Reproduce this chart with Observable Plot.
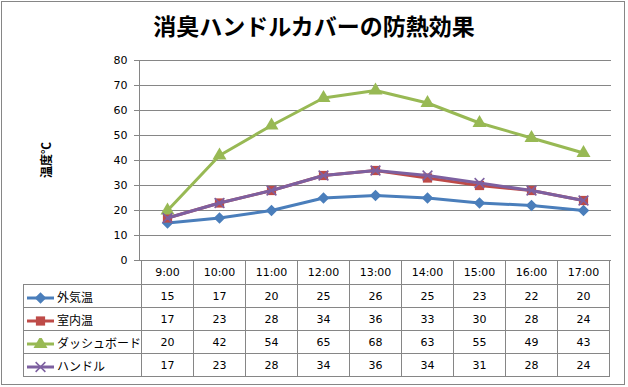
<!DOCTYPE html>
<html><head><meta charset="utf-8">
<script src="https://cdn.jsdelivr.net/npm/d3@7"></script>
<script src="https://cdn.jsdelivr.net/npm/@observablehq/plot@0.6"></script>
<style>
html,body{margin:0;padding:0;background:#fff;}
#wrap{position:relative;width:628px;height:387px;overflow:hidden;background:#fff;}
#border{position:absolute;left:1px;top:1px;width:622px;height:382px;border:1px solid #868686;}
#title{position:absolute;left:0;width:628px;top:8px;text-align:center;font-family:"Noto Sans CJK JP";font-weight:bold;font-size:23px;line-height:34px;color:#000;}
#ylabel{position:absolute;left:45px;top:160px;transform:translate(-50%,-50%) rotate(-90deg);font-family:"Noto Sans CJK JP";font-weight:bold;font-size:12px;white-space:nowrap;color:#000;}
#chart{position:absolute;left:0;top:0;}
#tbl{position:absolute;left:23px;top:260px;border-collapse:collapse;table-layout:fixed;font-family:"DejaVu Sans";font-size:11px;color:#000;}
#tbl td{border:1px solid #868686;text-align:center;padding:0;height:22px;white-space:nowrap;overflow:hidden;}
#tbl tr.hd td{height:24px;border-top:none;}
#tbl tr.hd td.blank{border-left:none;}
#tbl td.name{text-align:left;font-family:"Noto Sans CJK JP";font-size:12px;}
#tbl td.name svg{vertical-align:middle;margin:0 3px 0 3px;}
</style></head>
<body><div id="wrap"><div id="border"></div><div id="title"></div><div id="ylabel"></div><div id="chart"></div></div>
<script>
const title = "消臭ハンドルカバーの防熱効果";
const yLabel = "温度℃";
const times = ["9:00","10:00","11:00","12:00","13:00","14:00","15:00","16:00","17:00"];
const seriesNames = ["外気温","室内温","ダッシュボード","ハンドル"];
const outside = [15,17,20,25,26,25,23,22,20];
const room = [17,23,28,34,36,33,30,28,24];
const dashboard = [20,42,54,65,68,63,55,49,43];
const handle = [17,23,28,34,36,34,31,28,24];
const yTicks = [0,10,20,30,40,50,60,70,80];
const colors = ["#4A7EBB","#BE4B48","#98B954","#7D60A0"];
const symbols = ["diamond2","square","triangle","times"];

const seriesValues = [outside, room, dashboard, handle];
const data = seriesValues.flatMap((vals, s) => vals.map((v, i) => ({time: times[i], value: v, series: seriesNames[s]})));

document.getElementById("title").textContent = title;
document.getElementById("ylabel").textContent = yLabel;

const marks = [
  Plot.gridY(yTicks, {stroke: "#868686", strokeOpacity: 1}),
  Plot.axisY(yTicks, {tickSize: 5, tickPadding: 7, stroke: "#868686", fontSize: 11, fontFamily: "DejaVu Sans", fill: "#000", label: null}),
  Plot.frame({anchor: "left", stroke: "#868686"}),
  Plot.ruleY([0], {stroke: "#868686"})
];
seriesNames.forEach((name, s) => {
  const rows = data.filter(d => d.series === name);
  marks.push(Plot.line(rows, {x: "time", y: "value", stroke: colors[s], strokeWidth: 3}));
  const isStroke = symbols[s] === "times";
  marks.push(Plot.dot(rows, {x: "time", y: "value", symbol: symbols[s], r: isStroke ? 4.5 : 5.2,
    fill: isStroke ? "none" : colors[s], stroke: colors[s], strokeWidth: isStroke ? 1.5 : 0}));
});

const chart = Plot.plot({
  width: 628, height: 387,
  marginLeft: 139, marginRight: 17, marginTop: 60, marginBottom: 127,
  x: {type: "band", domain: times, padding: 0, axis: null},
  y: {domain: [0, 80], axis: null},
  marks
});
document.getElementById("chart").appendChild(chart);

// data table under the chart, columns taken from the x band scale
const xs = chart.scale("x");
const bw = xs.bandwidth;
const firstW = xs.apply(times[0]) - 23;
const tbl = document.createElement("table");
tbl.id = "tbl";
const cg = document.createElement("colgroup");
[firstW, ...times.map(() => bw)].forEach(w => { const c = document.createElement("col"); c.style.width = w + "px"; cg.appendChild(c); });
tbl.appendChild(cg);
const hd = document.createElement("tr"); hd.className = "hd";
const blank = document.createElement("td"); blank.className = "blank"; hd.appendChild(blank);
times.forEach(t => { const td = document.createElement("td"); td.textContent = t; hd.appendChild(td); });
tbl.appendChild(hd);
seriesNames.forEach((name, s) => {
  const tr = document.createElement("tr");
  const nm = document.createElement("td"); nm.className = "name";
  const sw = d3.create("svg").attr("width", 27).attr("height", 12);
  sw.append("line").attr("x1", 0).attr("x2", 27).attr("y1", 6).attr("y2", 6).attr("stroke", colors[s]).attr("stroke-width", 3);
  const isStroke = symbols[s] === "times";
  const sym = {diamond2: d3.symbolDiamond2, square: d3.symbolSquare, triangle: d3.symbolTriangle, times: d3.symbolTimes}[symbols[s]];
  const r = isStroke ? 4.5 : 5.2;
  sw.append("path").attr("transform", "translate(13.5,6)").attr("d", d3.symbol(sym, r * r * Math.PI)())
    .attr("fill", isStroke ? "none" : colors[s]).attr("stroke", colors[s]).attr("stroke-width", isStroke ? 1.5 : 0);
  nm.appendChild(sw.node());
  nm.appendChild(document.createTextNode(name));
  tr.appendChild(nm);
  seriesValues[s].forEach(v => { const td = document.createElement("td"); td.textContent = v; tr.appendChild(td); });
  tbl.appendChild(tr);
});
document.getElementById("wrap").appendChild(tbl);
</script></body></html>
